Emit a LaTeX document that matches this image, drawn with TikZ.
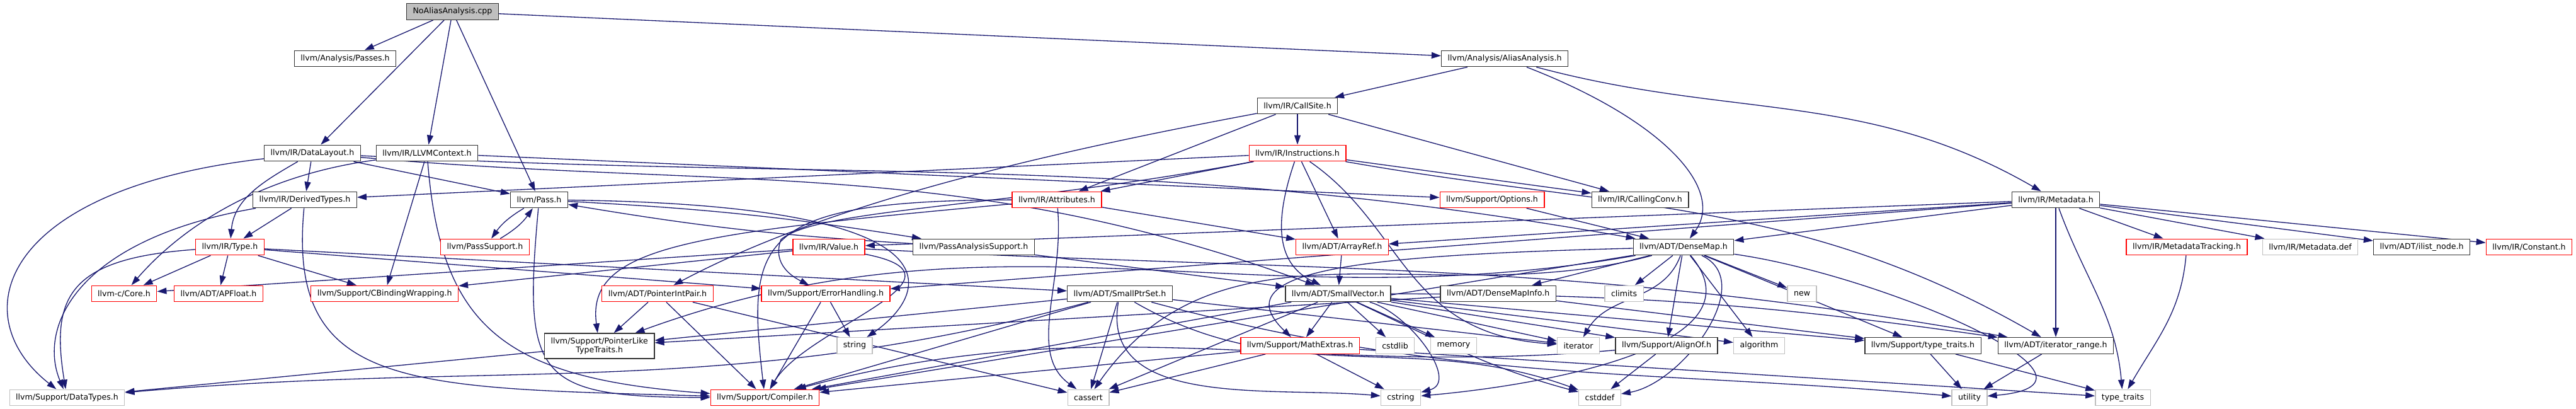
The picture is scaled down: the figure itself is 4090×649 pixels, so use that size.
\documentclass[tikz,border=0pt]{standalone}
\usepackage{fontspec}
\setmainfont{DejaVu Sans}
\usetikzlibrary{arrows.meta}
\pgfdeclarelayer{edges}
\pgfsetlayers{edges,main}

\definecolor{edgeblue}{RGB}{25,25,112}
\definecolor{sysgray}{RGB}{191,191,191}

\tikzset{
  file/.style={rectangle, fill=white, line width=0.33pt, inner xsep=2.5pt, inner ysep=0pt,
    minimum height=6.4pt, font=\fontsize{3.15}{3.58}\selectfont},
  root/.style={file, draw=black!80, fill=sysgray},
  hdr/.style={file, draw=black!80},
  trunc/.style={file, draw=red},
  sys/.style={file, draw=sysgray},
  dep/.style={draw=edgeblue, line width=0.33pt, -{Triangle[length=3.75pt, width=2.5pt]}},
}

\begin{document}
\begin{tikzpicture}[x=0.25pt, y=0.25pt]
\useasboundingbox (0,0) rectangle (4090,-649);

\node[root] (cpp) at (718.5,-18.5) {NoAliasAnalysis.cpp};
\node[hdr] (passes) at (548,-93) {llvm/Analysis/Passes.h};
\node[hdr] (aa) at (2389,-93) {llvm/Analysis/AliasAnalysis.h};
\node[hdr] (callsite) at (2060,-168) {llvm/IR/CallSite.h};
\node[hdr] (datalayout) at (496,-243) {llvm/IR/DataLayout.h};
\node[hdr] (context) at (678,-243) {llvm/IR/LLVMContext.h};
\node[trunc] (instr) at (2060,-243) {llvm/IR/Instructions.h};
\node[hdr] (derived) at (484,-317) {llvm/IR/DerivedTypes.h};
\node[hdr] (pass) at (856,-317) {llvm/Pass.h};
\node[trunc] (attrs) at (1678,-317) {llvm/IR/Attributes.h};
\node[trunc] (options) at (2369,-317) {llvm/Support/Options.h};
\node[hdr] (callconv) at (2604,-317) {llvm/IR/CallingConv.h};
\node[hdr] (metadata) at (3264,-317) {llvm/IR/Metadata.h};
\node[trunc] (type) at (365,-392) {llvm/IR/Type.h};
\node[trunc] (passsupport) at (770,-392) {llvm/PassSupport.h};
\node[trunc] (value) at (1316,-392) {llvm/IR/Value.h};
\node[hdr] (passanalysis) at (1546,-392) {llvm/PassAnalysisSupport.h};
\node[trunc] (arrayref) at (2131,-392) {llvm/ADT/ArrayRef.h};
\node[hdr] (densemap) at (2673,-392) {llvm/ADT/DenseMap.h};
\node[trunc] (mdtracking) at (3472,-392) {llvm/IR/MetadataTracking.h};
\node[sys] (mddef) at (3668,-392) {llvm/IR/Metadata.def};
\node[hdr] (ilistnode) at (3845,-392) {llvm/ADT/ilist\_node.h};
\node[trunc] (constant) at (4015.5,-392) {llvm/IR/Constant.h};
\node[trunc] (core) at (197,-466) {llvm-c/Core.h};
\node[trunc] (apfloat) at (347,-466) {llvm/ADT/APFloat.h};
\node[trunc] (cbinding) at (610.6,-466) {llvm/Support/CBindingWrapping.h};
\node[trunc] (ptrintpair) at (1044,-466) {llvm/ADT/PointerIntPair.h};
\node[trunc] (errhandling) at (1311,-466) {llvm/Support/ErrorHandling.h};
\node[hdr] (smallptrset) at (1778,-466) {llvm/ADT/SmallPtrSet.h};
\node[hdr] (smallvector) at (2124.5,-466) {llvm/ADT/SmallVector.h};
\node[hdr] (densemapinfo) at (2378.7,-466) {llvm/ADT/DenseMapInfo.h};
\node[sys] (climits) at (2578.6,-466) {climits};
\node[sys] (newhdr) at (2861,-466) {new};
\node[hdr, align=center, minimum height=10pt] (ptrlike) at (951.7,-549) {llvm/Support/PointerLike\\TypeTraits.h};
\node[sys] (string) at (1357,-548.5) {string};
\node[trunc] (mathextras) at (2064,-548.5) {llvm/Support/MathExtras.h};
\node[sys] (cstdlib) at (2215,-548.5) {cstdlib};
\node[sys] (memory) at (2308,-548.5) {memory};
\node[sys] (iterator) at (2506,-548.5) {iterator};
\node[hdr] (alignof) at (2646,-548.5) {llvm/Support/AlignOf.h};
\node[sys] (algorithm) at (2793,-548.5) {algorithm};
\node[hdr] (typetraitsh) at (3053,-548.5) {llvm/Support/type\_traits.h};
\node[hdr] (iterrange) at (3264,-548.5) {llvm/ADT/iterator\_range.h};
\node[sys] (datatypes) at (106.5,-631) {llvm/Support/DataTypes.h};
\node[trunc] (compiler) at (1214.5,-631) {llvm/Support/Compiler.h};
\node[sys] (cassert) at (1728,-631) {cassert};
\node[sys] (cstring) at (2224,-631) {cstring};
\node[sys] (cstddef) at (2540,-631) {cstddef};
\node[sys] (utility) at (3127,-631) {utility};
\node[sys] (typetraits) at (3370.5,-631) {type\_traits};

\begin{pgfonlayer}{edges}
\draw[dep] (cpp) -- (passes);
\draw[dep] (cpp) -- (datalayout);
\draw[dep] (cpp) -- (context);
\draw[dep] (cpp) -- (pass);
\draw[dep] (cpp) -- (aa);
\draw[dep] (aa) -- (callsite);
\draw[dep] (aa) .. controls (2640,-190) and (2740,-300) .. (densemap);
\draw[dep] (aa) to[out=-15, in=150] (metadata);
\draw[dep] (callsite) -- (instr);
\draw[dep] (callsite) -- (attrs);
\draw[dep] (callsite) -- (callconv);
\draw[dep] (callsite) .. controls (1620,-250) and (1300,-330) .. (ptrintpair);
\draw[dep] (datalayout) .. controls (0,-300) and (-60,-500) .. (datatypes);
\draw[dep] (datalayout) to[out=-150, in=85] (type);
\draw[dep] (datalayout) -- (derived);
\draw[dep] (datalayout) -- (pass);
\draw[dep] (datalayout) to[out=-5, in=160] (smallvector);
\draw[dep] (datalayout) to[out=-3, in=170] (densemap);
\draw[dep] (context) .. controls (400,-280) and (280,-370) .. (core);
\draw[dep] (context) -- (cbinding);
\draw[dep] (context) .. controls (700,-520) and (800,-600) .. (compiler);
\draw[dep] (context) -- (options);
\draw[dep] (instr) -- (derived);
\draw[dep] (instr) -- (attrs);
\draw[dep] (instr) -- (callconv);
\draw[dep] (instr) -- (arrayref);
\draw[dep] (instr) .. controls (2020,-360) and (2030,-420) .. (smallvector);
\draw[dep] (instr) .. controls (1600,-330) and (1300,-330) .. (1240,-380) .. controls (1225,-420) and (1260,-440) .. (errhandling);
\draw[dep] (instr) .. controls (2230,-360) and (2230,-530) .. (iterator);
\draw[dep] (instr) to[out=-10, in=150] (iterrange);
\draw[dep] (metadata) -- (densemap);
\draw[dep] (metadata) -- (arrayref);
\draw[dep] (metadata) -- (value);
\draw[dep] (metadata) -- (errhandling);
\draw[dep] (metadata) -- (iterrange);
\draw[dep] (metadata) to[out=-70, in=95] (typetraits);
\draw[dep] (metadata) -- (mdtracking);
\draw[dep] (metadata) -- (mddef);
\draw[dep] (metadata) -- (ilistnode);
\draw[dep] (metadata) -- (constant);
\draw[dep] (derived) -- (type);
\draw[dep] (derived) .. controls (120,-380) and (60,-520) .. (datatypes);
\draw[dep] (derived) .. controls (455,-620) and (650,-615) .. (compiler);
\draw[dep] (pass) to[bend right=12] (passsupport);
\draw[dep] (passsupport) to[bend right=12] (pass);
\draw[dep] (pass) to[bend left=3] (passanalysis);
\draw[dep] (passanalysis) to[bend left=3] (pass);
\draw[dep] (pass) .. controls (830,-600) and (850,-630) .. (compiler);
\draw[dep] (pass) .. controls (1550,-325) and (1470,-470) .. (string);
\draw[dep] (passanalysis) -- (smallvector);
\draw[dep] (attrs) -- (arrayref);
\draw[dep] (attrs) .. controls (1200,-318) and (1185,-380) .. (compiler);
\draw[dep] (attrs) .. controls (1100,-370) and (930,-390) .. (ptrlike);
\draw[dep] (attrs) .. controls (1690,-450) and (1630,-560) .. (cassert);
\draw[dep] (type) .. controls (110,-410) and (80,-470) .. (datatypes);
\draw[dep] (type) -- (core);
\draw[dep] (type) -- (apfloat);
\draw[dep] (type) -- (cbinding);
\draw[dep] (type) -- (errhandling);
\draw[dep] (type) -- (smallptrset);
\draw[dep] (value) -- (core);
\draw[dep] (value) -- (cbinding);
\draw[dep] (value) .. controls (1560,-440) and (1280,-520) .. (compiler);
\draw[dep] (value) to[out=-3, in=170] (iterrange);
\draw[dep] (arrayref) -- (smallvector);
\draw[dep] (options) -- (densemap);
\draw[dep] (densemap) -- (densemapinfo);
\draw[dep] (densemap) -- (climits);
\draw[dep] (densemap) to[out=-110, in=60] (iterator);
\draw[dep] (densemap) -- (alignof);
\draw[dep] (densemap) -- (algorithm);
\draw[dep] (densemap) -- (newhdr);
\draw[dep] (densemap) to[out=-25, in=10] (cstddef);
\draw[dep] (densemap) -- (typetraitsh);
\draw[dep] (densemap) to[out=-8, in=5, looseness=1.3] (utility);
\draw[dep] (densemap) to[out=-50, in=5] (cstring);
\draw[dep] (densemap) to[out=190, in=20] (ptrlike);
\draw[dep] (densemap) -- (compiler);
\draw[dep] (densemap) to[out=195, in=55] (cassert);
\draw[dep] (densemap) .. controls (2150,-405) and (1940,-430) .. (mathextras);
\draw[dep] (mdtracking) to[out=-95, in=60] (typetraits);
\draw[dep] (densemapinfo) -- (ptrlike);
\draw[dep] (densemapinfo) -- (typetraitsh);
\draw[dep] (ptrintpair) -- (ptrlike);
\draw[dep] (ptrintpair) -- (compiler);
\draw[dep] (ptrintpair) -- (cassert);
\draw[dep] (errhandling) -- (compiler);
\draw[dep] (errhandling) -- (string);
\draw[dep] (smallptrset) -- (ptrlike);
\draw[dep] (smallptrset) to[out=195, in=5] (datatypes);
\draw[dep] (smallptrset) -- (compiler);
\draw[dep] (smallptrset) -- (cassert);
\draw[dep] (smallptrset) to[out=-100, in=175] (cstring);
\draw[dep] (smallptrset) to[out=-30, in=160] (cstddef);
\draw[dep] (smallptrset) -- (iterator);
\draw[dep] (smallptrset) to[out=-15, in=175] (utility);
\draw[dep] (smallvector) -- (mathextras);
\draw[dep] (smallvector) -- (cstdlib);
\draw[dep] (smallvector) -- (memory);
\draw[dep] (smallvector) to[out=-15, in=15] (cstring);
\draw[dep] (smallvector) -- (cassert);
\draw[dep] (smallvector) -- (compiler);
\draw[dep] (smallvector) -- (iterator);
\draw[dep] (smallvector) -- (alignof);
\draw[dep] (smallvector) -- (algorithm);
\draw[dep] (smallvector) -- (typetraitsh);
\draw[dep] (smallvector) to[out=-25, in=165] (cstddef);
\draw[dep] (smallvector) to[bend left=4] (iterrange);
\draw[dep] (mathextras) -- (compiler);
\draw[dep] (mathextras) -- (cassert);
\draw[dep] (mathextras) -- (cstring);
\draw[dep] (mathextras) -- (typetraits);
\draw[dep] (alignof) to[out=185, in=15] (compiler);
\draw[dep] (alignof) -- (cstddef);
\draw[dep] (typetraitsh) -- (utility);
\draw[dep] (typetraitsh) -- (typetraits);
\draw[dep] (iterrange) -- (utility);
\draw[dep] (ptrlike) -- (datatypes);
\end{pgfonlayer}
\end{tikzpicture}
\end{document}
